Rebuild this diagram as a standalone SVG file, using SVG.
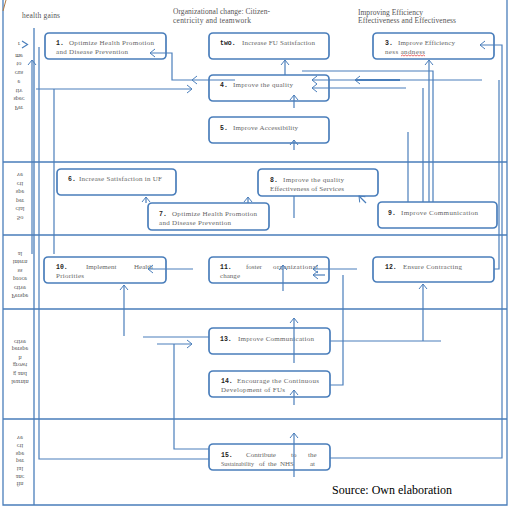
<svg xmlns="http://www.w3.org/2000/svg" width="510" height="509" viewBox="0 0 510 509">
<style>
.frame{fill:none;stroke:#4a7ebb;stroke-width:1.3}
.box{fill:#fff;stroke:#4a7ebb;stroke-width:1.7}
.c{fill:none;stroke:#4a7ebb;stroke-width:1.2}
.t{font-family:"Liberation Serif",serif;font-size:7px;fill:#666}
.n{font-family:"Liberation Mono",monospace;font-weight:bold;font-size:6.5px;fill:#222}
.h{font-family:"Liberation Serif",serif;font-size:7.5px;fill:#555}
.s{font-family:"Liberation Serif",serif;font-size:6.3px;fill:#555;text-anchor:middle}
</style>
<defs>
<marker id="a" markerWidth="8" markerHeight="10" refX="6" refY="5" orient="auto" markerUnits="userSpaceOnUse">
<path d="M1,1 L6,5 L1,9" fill="none" stroke="#4a7ebb" stroke-width="1"/>
</marker>
</defs>
<g id="frame">
<path class="frame" d="M3,0 V505 H507 V0"/>
<path class="frame" d="M34,28 V505"/>
<path class="frame" d="M3,162 H507 M3,235 H507 M3,309 H507 M3,419 H507"/>
<path d="M6,0 L3,11" stroke="#b07840" stroke-width="1" fill="none"/>
</g>
<g id="headers">
<text class="h" x="22" y="17.5" textLength="38" lengthAdjust="spacing">health gains</text>
<text class="h" x="173" y="13.5" textLength="97" lengthAdjust="spacing">Organizational change: Citizen-</text>
<text class="h" x="173" y="22.5" textLength="78" lengthAdjust="spacing">centricity and teamwork</text>
<text class="h" x="358" y="14.5" textLength="65" lengthAdjust="spacing">Improving Efficiency</text>
<text class="h" x="358" y="23" textLength="98" lengthAdjust="spacing">Effectiveness and Effectiveness</text>
<text x="332" y="494" font-family="Liberation Serif,serif" font-size="12" fill="#000">Source: Own elaboration</text>
</g>
<g id="perspectives">
<text class="s" transform="translate(19,106) scale(1,-1)">Per</text>
<text class="s" transform="translate(19,97) scale(1,-1)">spec</text>
<text class="s" transform="translate(19,89) scale(1,-1)">tiv</text>
<text class="s" transform="translate(19,80) scale(1,-1)">e</text>
<text class="s" transform="translate(19,71) scale(1,-1)">cus</text>
<text class="s" transform="translate(19,62) scale(1,-1)">to</text>
<text class="s" transform="translate(19,54) scale(1,-1)">me</text>
<text class="s" transform="translate(19,42) scale(1,-1)">r</text>

<text class="s" transform="translate(20,216) scale(1,-1)">So</text>
<text class="s" transform="translate(20,207) scale(1,-1)">cial</text>
<text class="s" transform="translate(20,199) scale(1,-1)">per</text>
<text class="s" transform="translate(20,190) scale(1,-1)">spe</text>
<text class="s" transform="translate(20,182) scale(1,-1)">cti</text>
<text class="s" transform="translate(20,173) scale(1,-1)">ve</text>

<text class="s" transform="translate(20,294) scale(1,-1)">Perspe</text>
<text class="s" transform="translate(20,285.5) scale(1,-1)">ctive</text>
<text class="s" transform="translate(20,277) scale(1,-1)">proce</text>
<text class="s" transform="translate(20,268.5) scale(1,-1)">ss</text>
<text class="s" transform="translate(20,260) scale(1,-1)">intern</text>
<text class="s" transform="translate(20,252) scale(1,-1)">al</text>

<text class="s" transform="translate(20,380) scale(1,-1)">learnin</text>
<text class="s" transform="translate(20,371.5) scale(1,-1)">g and</text>
<text class="s" transform="translate(20,363) scale(1,-1)">growt</text>
<text class="s" transform="translate(20,355.5) scale(1,-1)">h</text>
<text class="s" transform="translate(20,347) scale(1,-1)">perspe</text>
<text class="s" transform="translate(20,339.5) scale(1,-1)">ctive</text>

<text class="s" transform="translate(20,482) scale(1,-1)">fin</text>
<text class="s" transform="translate(20,474.5) scale(1,-1)">anc</text>
<text class="s" transform="translate(20,467) scale(1,-1)">ial</text>
<text class="s" transform="translate(20,459) scale(1,-1)">per</text>
<text class="s" transform="translate(20,451.5) scale(1,-1)">spe</text>
<text class="s" transform="translate(20,444) scale(1,-1)">cti</text>
<text class="s" transform="translate(20,436) scale(1,-1)">ve</text>
</g>
<g id="n1"><rect class="box" x="45" y="33" width="121" height="26" rx="4"/>
<text class="n" x="56" y="45">1.</text>
<text class="t" x="69" y="45" textLength="85" lengthAdjust="spacing">Optimize Health Promotion</text>
<text class="t" x="56" y="54" textLength="72" lengthAdjust="spacing">and Disease Prevention</text></g>
<g id="n2"><rect class="box" x="209" y="33" width="120" height="26" rx="4"/>
<text class="n" x="220" y="45">two.</text>
<text class="t" x="242" y="45" textLength="73" lengthAdjust="spacing">Increase FU Satisfaction</text></g>
<g id="n3"><rect class="box" x="373" y="33" width="121" height="26" rx="4"/>
<text class="n" x="385" y="45">3.</text>
<text class="t" x="398" y="45" textLength="57" lengthAdjust="spacing">Improve Efficiency</text>
<text class="t" x="385" y="54" textLength="40" lengthAdjust="spacing">ness andness</text>
<path d="M401,56 l1.5,-1 l1.5,1 l1.5,-1 l1.5,1 l1.5,-1 l1.5,1 l1.5,-1 l1.5,1 l1.5,-1 l1.5,1 l1.5,-1 l1.5,1 l1.5,-1 l1.5,1 l1.5,-1 l1.5,1" fill="none" stroke="#e03030" stroke-width="0.7"/></g>
<g id="n4"><rect class="box" x="209" y="75" width="120" height="26" rx="4"/>
<text class="n" x="220" y="87">4.</text>
<text class="t" x="233" y="87" textLength="60" lengthAdjust="spacing">Improve the quality</text></g>
<g id="n5"><rect class="box" x="209" y="117" width="120" height="26" rx="4"/>
<text class="n" x="220" y="130">5.</text>
<text class="t" x="233" y="130" textLength="65" lengthAdjust="spacing">Improve Accessibility</text></g>
<g id="n6"><rect class="box" x="57" y="169" width="119" height="26" rx="4"/>
<text class="n" x="68" y="180.7">6.</text>
<text class="t" x="79" y="180.7" textLength="83" lengthAdjust="spacing">Increase Satisfaction  in UF</text></g>
<g id="n7"><rect class="box" x="148" y="203" width="121" height="27" rx="4"/>
<text class="n" x="159" y="215.7">7.</text>
<text class="t" x="172" y="215.7" textLength="85" lengthAdjust="spacing">Optimize Health Promotion</text>
<text class="t" x="159" y="224.7" textLength="72" lengthAdjust="spacing">and Disease Prevention</text></g>
<g id="n8"><rect class="box" x="258" y="169" width="120" height="27" rx="4"/>
<text class="n" x="270" y="181.7">8.</text>
<text class="t" x="283" y="181.7" textLength="61" lengthAdjust="spacing">Improve the quality</text>
<text class="t" x="270" y="191" textLength="74" lengthAdjust="spacing">Effectiveness  of Services</text></g>
<g id="n9"><rect class="box" x="378" y="202" width="119" height="26" rx="4"/>
<text class="n" x="388" y="215">9.</text>
<text class="t" x="401" y="215" textLength="77" lengthAdjust="spacing">Improve Communication</text></g>
<g id="n10"><rect class="box" x="44" y="257" width="122" height="26" rx="4"/>
<text class="n" x="56" y="269">10.</text>
<text class="t" x="86" y="269">Implement</text>
<text class="t" x="134" y="269">Health</text>
<text class="t" x="56" y="278" textLength="28" lengthAdjust="spacing">Priorities</text></g>
<g id="n11"><rect class="box" x="209" y="257" width="120" height="26" rx="4"/>
<text class="n" x="220" y="269">11.</text>
<text class="t" x="246" y="269">foster</text>
<text class="t" x="273" y="269" textLength="45" lengthAdjust="spacing">organizational</text>
<text class="t" x="220" y="278" textLength="20" lengthAdjust="spacing">change</text></g>
<g id="n12"><rect class="box" x="373" y="257" width="121" height="25" rx="4"/>
<text class="n" x="385" y="269">12.</text>
<text class="t" x="403" y="269" textLength="59" lengthAdjust="spacing">Ensure Contracting</text></g>
<g id="n13"><rect class="box" x="209" y="328" width="121" height="26" rx="4"/>
<text class="n" x="220" y="341.3">13.</text>
<text class="t" x="238" y="341.3" textLength="76" lengthAdjust="spacing">Improve Communication</text></g>
<g id="n14"><rect class="box" x="209" y="371" width="121" height="26" rx="4"/>
<text class="n" x="221" y="383.3">14.</text>
<text class="t" x="237" y="383.3" textLength="82" lengthAdjust="spacing">Encourage the Continuous</text>
<text class="t" x="221" y="392.3" textLength="64" lengthAdjust="spacing">Development of FUs</text></g>
<g id="n15"><rect class="box" x="209" y="444" width="121" height="26" rx="4"/>
<text class="n" x="221" y="457.3">15.</text>
<text class="t" x="246" y="457.3">Contribute</text>
<text class="t" x="291" y="457.3">to</text>
<text class="t" x="308" y="457.3">the</text>
<text class="t" x="221" y="466.3" textLength="33" lengthAdjust="spacingAndGlyphs">Sustainability</text>
<text class="t" x="259" y="466.3">of</text>
<text class="t" x="268" y="466.3">the</text>
<text class="t" x="280" y="466.3">NHS</text>
<text class="t" x="310" y="466.3">at</text></g>
<g id="connectors">
<path class="c" d="M22,41 L27.5,44.5 L22,48"/>
<path class="c" d="M32,254 V60" marker-end="url(#a)"/>
<path class="c" d="M39,47 V459 H209"/>
<path class="c" d="M36,89 H192" marker-end="url(#a)"/>
<path class="c" d="M54,89 V254"/>
<path class="c" d="M235,80 H192" marker-end="url(#a)"/>
<path class="c" d="M192,80 H172 V53 H150" marker-end="url(#a)"/>
<path class="c" d="M285,75 V60" marker-end="url(#a)"/>
<path class="c" d="M294,108 V95" marker-end="url(#a)"/>
<path class="c" d="M294,150 V140" marker-end="url(#a)"/>
<path class="c" d="M302,71 H433 V202"/>
<path class="c" d="M429,202 V60" marker-end="url(#a)"/>
<path class="c" d="M482,80 H355" marker-end="url(#a)"/>
<path class="c" d="M355,80 H312" marker-end="url(#a)"/>
<path d="M355,80 H400" stroke="#4a7ebb" stroke-width="2.2" fill="none"/>
<path class="c" d="M406,88 H312" marker-end="url(#a)"/>
<path class="c" d="M423,88 V202"/>
<path class="c" d="M408,132 V202"/>
<path class="c" d="M499,80 V269 H494"/>
<path class="c" d="M330,458 H502 V45 H480" marker-end="url(#a)"/>
<path class="c" d="M366,203 L359,196" marker-end="url(#a)"/>
<path class="c" d="M146,203 V197" marker-end="url(#a)"/>
<path class="c" d="M248,203 V197" marker-end="url(#a)"/>
<path class="c" d="M294,196 V218"/>
<path class="c" d="M124,336 V285" marker-end="url(#a)"/>
<path class="c" d="M193,269 H148" marker-end="url(#a)"/>
<path class="c" d="M283,291 V265" marker-end="url(#a)"/>
<path class="c" d="M357,269 H313" marker-end="url(#a)"/>
<path class="c" d="M330,385 H343 V275"/>
<path class="c" d="M325,275 H313" marker-end="url(#a)"/>
<path class="c" d="M330,341 H441"/>
<path class="c" d="M423,341 V284" marker-end="url(#a)"/>
<path class="c" d="M294,363 V318" marker-end="url(#a)"/>
<path class="c" d="M294,405 V390" marker-end="url(#a)"/>
<path class="c" d="M294,477 V433" marker-end="url(#a)"/>
<path class="c" d="M209,337 H143"/>
<path class="c" d="M157,344 H192" marker-end="url(#a)"/>
<path class="c" d="M209,449 H174 V344"/>
</g>
</svg>
